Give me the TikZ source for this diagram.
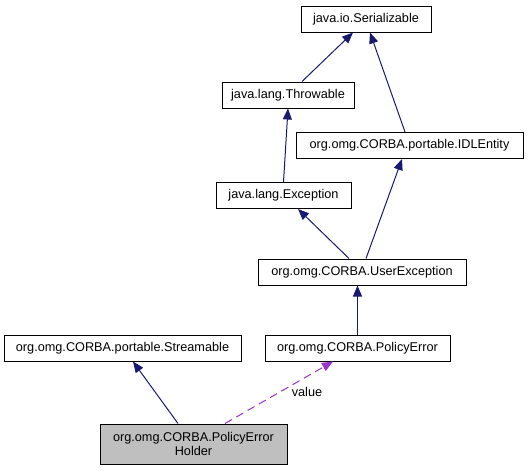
\documentclass[tikz,border=0pt]{standalone}
\usepackage{fontspec}
\setmainfont{Liberation Sans}
\usetikzlibrary{arrows.meta}
\definecolor{edgeblue}{HTML}{191970}
\definecolor{edgepurple}{HTML}{9A32CD}
\tikzset{
  cls/.style={draw=black, line width=1pt, fill=white, inner sep=0pt, minimum height=26pt,
    font=\fontsize{12.7}{13.5}\selectfont, align=center},
  inh/.style={draw=edgeblue, line width=1pt, -{Triangle[length=11pt,width=9pt]}},
  use/.style={draw=edgepurple, line width=1pt, dash pattern=on 8pt off 5pt, -{Triangle[length=11pt,width=9pt]}},
  lbl/.style={font=\fontsize{12.7}{13.5}\selectfont, inner sep=0pt}
}
\begin{document}
\begin{tikzpicture}[x=1pt,y=-1pt]
\useasboundingbox (0,0) rectangle (529,471);
\node[cls, minimum width=130pt] (ser) at (366,19) {java.io.Serializable};
\node[cls, minimum width=132pt] (thr) at (288,95) {java.lang.Throwable};
\node[cls, minimum width=227pt] (idl) at (409.5,145.5) {org.omg.CORBA.portable.IDLEntity};
\node[cls, minimum width=135pt] (exc) at (283.5,195.5) {java.lang.Exception};
\node[cls, minimum width=208pt] (usr) at (362,272) {org.omg.CORBA.UserException};
\node[cls, minimum width=237pt] (str) at (122.5,348) {org.omg.CORBA.portable.Streamable};
\node[cls, minimum width=185pt] (pol) at (357.5,348) {org.omg.CORBA.PolicyError};
\node[cls, minimum width=187pt, minimum height=40pt, fill={rgb,255:red,191;green,191;blue,191}] (hol) at (193.5,444) {org.omg.CORBA.PolicyError\\Holder};

\draw[inh] ([xshift=14pt]thr.north) -- ([xshift=-13pt]ser.south);
\draw[inh] ([xshift=-4.5pt]idl.north) -- ([xshift=4pt]ser.south);
\draw[inh] (exc.north) -- (thr.south);
\draw[inh] ([xshift=-13pt]usr.north) -- ([xshift=14.5pt]exc.south);
\draw[inh] ([xshift=4pt]usr.north) -- ([xshift=-7.5pt]idl.south);
\draw[inh] (pol.north) -- (pol.north |- usr.south);
\draw[inh] ([xshift=-15.5pt]hol.north) -- ([xshift=10.5pt]str.south);
\draw[use] ([xshift=31.5pt]hol.north) -- ([xshift=-24.5pt]pol.south);
\node[lbl] (val) at (307,392) {value};
\end{tikzpicture}
\end{document}
